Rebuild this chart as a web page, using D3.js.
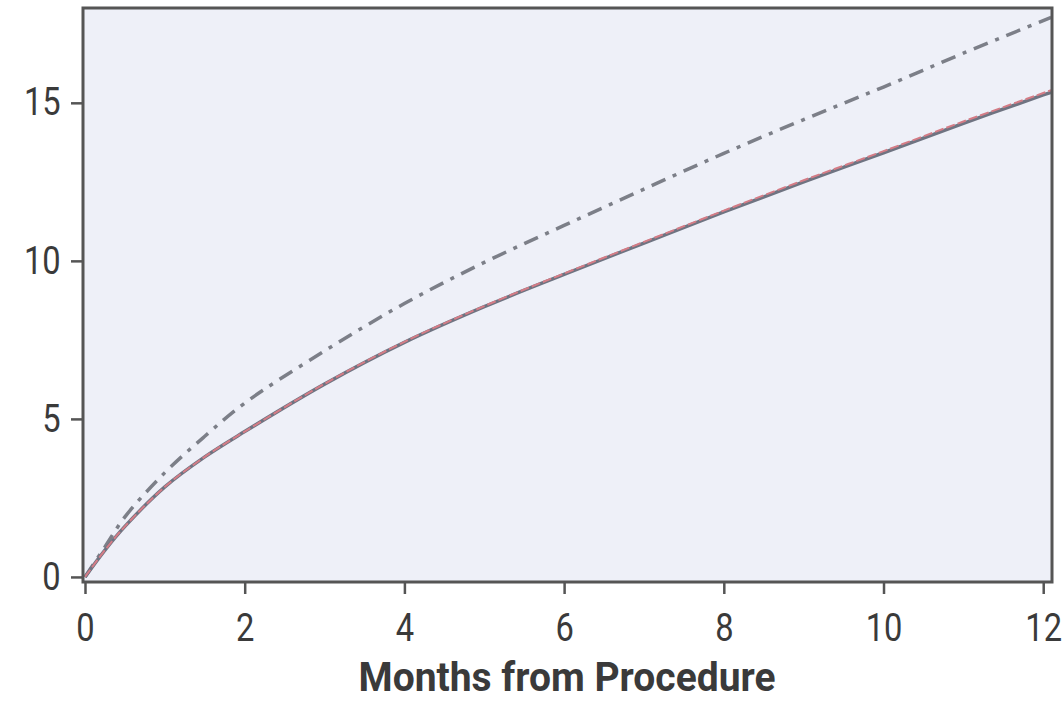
<!DOCTYPE html>
<html>
<head>
<meta charset="utf-8">
<script src="https://cdn.jsdelivr.net/npm/d3@7"></script>
<style>
  body { margin: 0; background: #fff; }
  svg { display: block; }
</style>
</head>
<body>
<div id="chart"></div>
<script>
// months after procedure
const months = [0, 0.25, 0.5, 1, 1.5, 2, 3, 4, 5, 6, 7, 8, 9, 10, 11, 12, 12.1]
// lower pair of curves (solid + red dashed, nearly identical)
const lowerSolid = [0, 0.85, 1.6, 2.85, 3.8, 4.6, 6.1, 7.42, 8.55, 9.57, 10.56, 11.55, 12.5, 13.42, 14.35, 15.25, 15.33]
const lowerDashed = [0, 0.85, 1.6, 2.85, 3.8, 4.6, 6.11, 7.44, 8.57, 9.6, 10.6, 11.59, 12.55, 13.47, 14.41, 15.31, 15.4]
// upper dash-dot curve
const upperDashDot = [0, 0.95, 1.9, 3.3, 4.45, 5.5, 7.15, 8.65, 9.95, 11.12, 12.27, 13.4, 14.47, 15.5, 16.57, 17.6, 17.7]

const xTicks = [0, 2, 4, 6, 8, 10, 12]
const yTicks = [0, 5, 10, 15]
const xTitle = "Months from Procedure"

const Width = 1064, Height = 702
const plot = { left: 83, right: 1052, top: 8, bottom: 582 }

const svg = d3.select("#chart").append("svg")
  .attr("width", Width)
  .attr("height", Height)

const x = d3.scaleLinear().domain([-0.025, 12.11]).range([plot.left, plot.right])
const y = d3.scaleLinear().domain([-0.16, 18.0]).range([plot.bottom, plot.top])

// plot background
svg.append("rect")
  .attr("x", plot.left).attr("y", plot.top)
  .attr("width", plot.right - plot.left).attr("height", plot.bottom - plot.top)
  .attr("fill", "#eef0f8")

svg.append("clipPath").attr("id", "clip")
  .append("rect")
  .attr("x", plot.left).attr("y", plot.top)
  .attr("width", plot.right - plot.left).attr("height", plot.bottom - plot.top)

const line = (vals) => d3.line()
  .x((d, i) => x(months[i]))
  .y(d => y(d))
  .curve(d3.curveCatmullRom.alpha(0.5))(vals)

const g = svg.append("g").attr("clip-path", "url(#clip)")

g.append("path")
  .attr("d", line(upperDashDot))
  .attr("fill", "none")
  .attr("stroke", "#7c7f88")
  .attr("stroke-width", 3.5)
  .attr("stroke-dasharray", "15,8,4,8")

g.append("path")
  .attr("d", line(lowerSolid))
  .attr("fill", "none")
  .attr("stroke", "#6f7482")
  .attr("stroke-width", 3.5)

g.append("path")
  .attr("d", line(lowerDashed))
  .attr("fill", "none")
  .attr("stroke", "#d47c86")
  .attr("stroke-width", 2)
  .attr("stroke-dasharray", "9,3")

// axes
const xAxis = d3.axisBottom(x).tickValues(xTicks).tickSize(12).tickPadding(20)
const yAxis = d3.axisLeft(y).tickValues(yTicks).tickSize(12).tickPadding(14)

const gx = svg.append("g")
  .attr("transform", `translate(0, ${plot.bottom})`)
  .call(xAxis)
const gy = svg.append("g")
  .attr("transform", `translate(${plot.left}, 0)`)
  .call(yAxis)

;[gx, gy].forEach(a => {
  a.select(".domain").remove()
  a.selectAll(".tick line").attr("stroke", "#555").attr("stroke-width", 2.5)
  a.selectAll(".tick text")
    .attr("fill", "#3a3a3a")
    .attr("transform", "scale(0.86,1)")
    .style("font-family", "Roboto, sans-serif")
    .style("font-size", "38px")
})

// frame
svg.append("rect")
  .attr("x", plot.left).attr("y", plot.top)
  .attr("width", plot.right - plot.left).attr("height", plot.bottom - plot.top)
  .attr("fill", "none")
  .attr("stroke", "#555")
  .attr("stroke-width", 3)

svg.append("text")
  .attr("x", (358 + 776) / 2)
  .attr("y", 691)
  .attr("text-anchor", "middle")
  .attr("textLength", 417)
  .attr("lengthAdjust", "spacingAndGlyphs")
  .style("font-family", "Roboto, sans-serif")
  .style("font-weight", "bold")
  .style("font-size", "41px")
  .attr("fill", "#3a3a3a")
  .text(xTitle)
</script>
</body>
</html>
